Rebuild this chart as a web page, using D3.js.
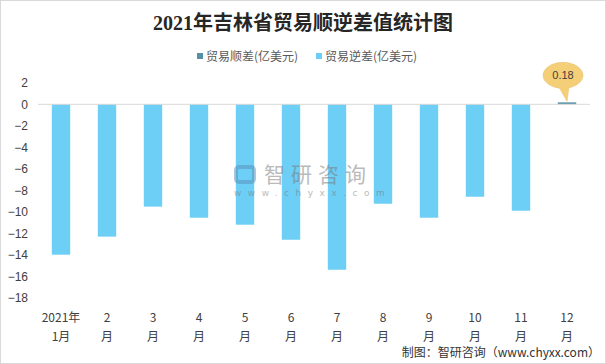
<!DOCTYPE html>
<html>
<head>
<meta charset="utf-8">
<script src="https://cdn.jsdelivr.net/npm/d3@7/dist/d3.min.js"></script>
<style>
  body { margin: 0; background: #fff; }
  svg { display: block; font-family: "Noto Sans CJK SC", "Noto Sans", sans-serif; }
</style>
</head>
<body>
<svg id="chart" width="606" height="364"></svg>
<script>
const months = ["1", "2", "3", "4", "5", "6", "7", "8", "9", "10", "11", "12"];
const xLabels = [["2021年", "1月"], ["2", "月"], ["3", "月"], ["4", "月"], ["5", "月"], ["6", "月"],
                 ["7", "月"], ["8", "月"], ["9", "月"], ["10", "月"], ["11", "月"], ["12", "月"]];
const surplus = [null, null, null, null, null, null, null, null, null, null, null, 0.18];
const deficit = [-13.99, -12.31, -9.52, -10.55, -11.2, -12.6, -15.39, -9.25, -10.55, -8.6, -9.9, null];
const yTicks = [2, 0, -2, -4, -6, -8, -10, -12, -14, -16, -18];
const seriesNames = ["贸易顺差(亿美元)", "贸易逆差(亿美元)"];
const colors = ["#5690a8", "#6dcff6"];

const svg = d3.select("#chart");
const width = 606;
const height = 364;

// frame
svg.append("rect")
    .attr("x", 0.5).attr("y", 0.5)
    .attr("width", width - 1).attr("height", height - 1)
    .attr("fill", "#fff")
    .attr("stroke", "#d9d9d9");

const xScale = d3.scaleBand()
    .domain(months)
    .range([38, 590])
    .paddingInner(0.6)
    .paddingOuter(0.3);

const yScale = d3.scaleLinear()
    .domain([-18, 2])
    .range([297.8, 82.8]);

// title
svg.append("text")
    .attr("x", 303)
    .attr("y", 30)
    .attr("text-anchor", "middle")
    .style("font-family", "'Liberation Serif', 'Noto Sans CJK SC', serif")
    .style("font-size", "20px")
    .style("font-weight", "bold")
    .attr("fill", "#262626")
    .text("2021年吉林省贸易顺逆差值统计图");

// legend
const legendX = [197, 316];
seriesNames.forEach((name, i) => {
    svg.append("rect")
        .attr("x", legendX[i]).attr("y", 53)
        .attr("width", 6).attr("height", 6)
        .attr("fill", colors[i]);
    svg.append("text")
        .attr("x", legendX[i] + 9)
        .attr("y", 61)
        .style("font-size", "12px")
        .attr("fill", "#595959")
        .text(name);
});

// y axis labels
const yAxis = svg.append("g")
    .attr("transform", "translate(28,0)")
    .call(d3.axisLeft(yScale).tickValues(yTicks).tickSize(0).tickPadding(0));
yAxis.select(".domain").remove();
yAxis.selectAll("text")
    .style("font-family", "'Liberation Sans', Arial, sans-serif")
    .style("font-size", "12px")
    .attr("fill", "#404040");

// deficit bars
svg.append("g").selectAll("rect")
    .data(months.map((m, i) => ({ m, v: deficit[i] })).filter(d => d.v !== null))
    .enter()
    .append("rect")
    .attr("x", d => xScale(d.m))
    .attr("y", yScale(0))
    .attr("width", xScale.bandwidth())
    .attr("height", d => yScale(d.v) - yScale(0))
    .attr("fill", colors[1]);

// surplus bars
svg.append("g").selectAll("rect")
    .data(months.map((m, i) => ({ m, v: surplus[i] })).filter(d => d.v !== null))
    .enter()
    .append("rect")
    .attr("x", d => xScale(d.m))
    .attr("y", d => yScale(d.v))
    .attr("width", xScale.bandwidth())
    .attr("height", d => yScale(0) - yScale(d.v))
    .attr("fill", colors[0]);

// zero line
svg.append("line")
    .attr("x1", 38).attr("x2", 590)
    .attr("y1", yScale(0)).attr("y2", yScale(0))
    .attr("stroke", "#d9d9d9");

// watermark (sits over the bars)
const wm = svg.append("g").attr("opacity", 0.5);
wm.append("rect")
    .attr("x", 236).attr("y", 167).attr("width", 18).attr("height", 15)
    .attr("rx", 3)
    .attr("fill", "none")
    .attr("stroke", "#5a8fb8")
    .attr("stroke-width", 4);
wm.append("text")
    .attr("x", 264).attr("y", 182)
    .style("font-size", "21px")
    .style("letter-spacing", "6px")
    .attr("fill", "#777")
    .text("智研咨询");
wm.append("text")
    .attr("x", 234).attr("y", 196)
    .style("font-family", "'DejaVu Sans', sans-serif")
    .style("font-size", "9px")
    .style("letter-spacing", "6.5px")
    .attr("fill", "#777")
    .text("www.chyxx.com");

// x labels
const xAxis = svg.append("g");
months.forEach((m, i) => {
    const t = xAxis.append("text")
        .attr("x", xScale(m) + xScale.bandwidth() / 2)
        .attr("y", 322)
        .attr("text-anchor", "middle")
        .style("font-size", "12px")
        .attr("fill", "#404040");
    xLabels[i].forEach((line, j) => {
        t.append("tspan")
            .attr("x", xScale(m) + xScale.bandwidth() / 2)
            .attr("dy", j === 0 ? 0 : 19)
            .text(line);
    });
});

// callout for surplus value
surplus.forEach((v, i) => {
    if (v === null) return;
    const cx = xScale(months[i]) + xScale.bandwidth() / 2;
    const tipY = yScale(v) - 1;
    const bx = cx - 4, by = tipY - 26;
    const g = svg.append("g");
    g.append("path")
        .attr("d", `M${bx - 5},${by + 10} L${cx},${tipY} L${bx + 6},${by + 11} Z`)
        .attr("fill", "#f5cf78")
        .attr("stroke", "#e0c070")
        .attr("stroke-width", 0.5);
    g.append("ellipse")
        .attr("cx", bx).attr("cy", by)
        .attr("rx", 20).attr("ry", 13)
        .attr("fill", "#f5cf78")
        .attr("stroke", "#e0c070")
        .attr("stroke-width", 0.5);
    g.append("path")
        .attr("d", `M${bx - 5},${by + 10} L${cx},${tipY} L${bx + 6},${by + 11} Z`)
        .attr("fill", "#f5cf78");
    g.append("text")
        .attr("x", bx).attr("y", by + 4)
        .attr("text-anchor", "middle")
        .style("font-family", "'Liberation Sans', Arial, sans-serif")
        .style("font-size", "11px")
        .attr("fill", "#404040")
        .text(v.toFixed(2));
});

// source
svg.append("text")
    .attr("x", 600)
    .attr("y", 357)
    .attr("text-anchor", "end")
    .style("font-size", "12px")
    .attr("fill", "#333")
    .text("制图：智研咨询（www.chyxx.com）");
</script>
</body>
</html>
